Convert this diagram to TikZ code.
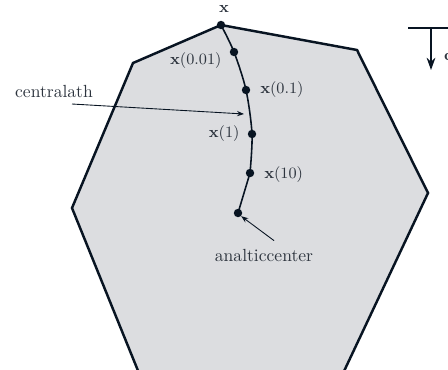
\documentclass[tikz,border=0pt]{standalone}
\usepackage{amsmath,amssymb}
\usepackage{tikz}
\usetikzlibrary{arrows.meta,calc}

\definecolor{edgeblue}{RGB}{8,20,34}
\definecolor{regiongray}{RGB}{220,221,224}
\definecolor{labelgray}{RGB}{45,52,62}

\tikzset{
  pathdot/.style={fill=edgeblue, circle, inner sep=0pt, minimum size=4.8pt},
  ptlabel/.style={font=\small, text=labelgray},
  notelabel/.style={font=\normalsize, text=labelgray},
}

\begin{document}
\begin{tikzpicture}[x=0.02cm,y=-0.02cm]
\useasboundingbox (0,0) rectangle (448,369);
\clip (0,0) rectangle (448,369);
% Feasible region
\draw[line width=1.4pt, edgeblue, fill=regiongray, line join=miter]
  (221,25) -- (357,50) -- (428,193) -- (321,420) -- (158,420) -- (72,208) -- (133,63) -- cycle;
% Points on the central path
\foreach \name/\px/\py in {p0/221/25, p1/234/52, p2/246/90, p3/252/134, p4/250/173, pc/238/213} {
  \coordinate (\name) at (\px,\py);
}
\draw[line width=0.9pt, edgeblue] plot[smooth] coordinates {(p0) (p1) (p2) (p3) (p4)} -- (pc);
\foreach \name in {p0,p1,p2,p3,p4,pc} {
  \node[pathdot] (d\name) at (\name) {};
}
% Labels
\node[ptlabel, above=1pt] (lx) at ($(dp0.north)+(3,0)$) {$\mathbf{x}$};
\node[ptlabel, left=1pt] (l1) at ($(dp1.west)+(0,9)$) {$\mathbf{x}(0.01)$};
\node[ptlabel, right=2pt] (l2) at (dp2.east) {$\mathbf{x}(0.1)$};
\node[ptlabel, left=1pt] (l3) at (dp3.west) {$\mathbf{x}(1)$};
\node[ptlabel, right=2pt] (l4) at ($(dp4.east)+(0,2)$) {$\mathbf{x}(10)$};
\node[notelabel] (centralpath) at (54,91) {centralath};
\node[notelabel] (analytic) at (264,255) {analticcenter};
\draw[-{Stealth[length=4pt]}, line width=0.5pt, edgeblue] (72,104) -- (244,114);
\draw[-{Stealth[length=4pt]}, line width=0.5pt, edgeblue] (analytic.north) ++(10,-2) -- (dpc.south east);
% Objective direction
\coordinate (cbar) at (408,28);
\coordinate (cend) at (460,28);
\coordinate (ctop) at (431,28);
\draw[line width=0.8pt, edgeblue] (cbar) -- (cend);
\draw[-{Stealth[length=7pt,width=5pt]}, line width=0.8pt, edgeblue] (ctop) -- ++(0,42) coordinate (ctip);
\node[ptlabel, anchor=west] (clabel) at (438,57) {$\mathbf{c}$};
\end{tikzpicture}
\end{document}
